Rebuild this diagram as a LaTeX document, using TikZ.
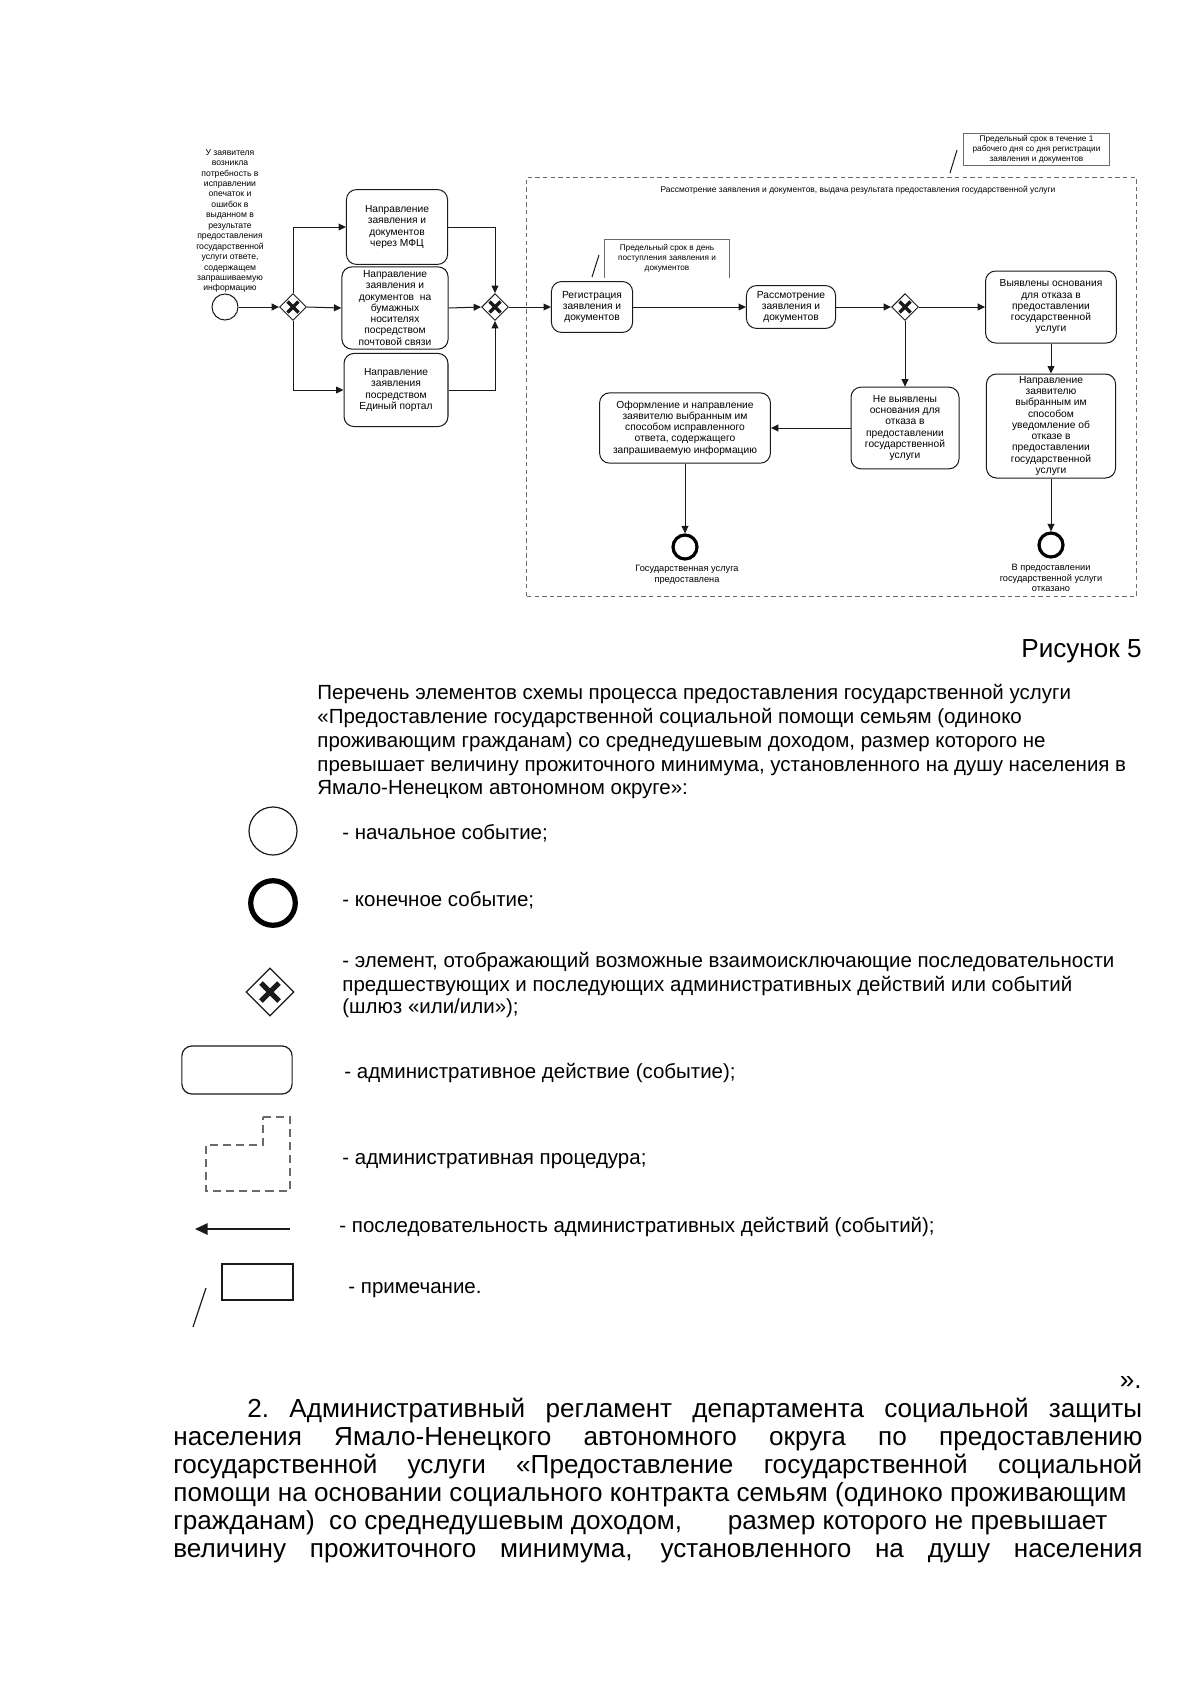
\documentclass[tikz,border=0pt]{standalone}
\usepackage{fontspec}
\setmainfont{Liberation Sans}
\usetikzlibrary{arrows.meta,shapes.geometric}
\definecolor{darkline}{HTML}{1A1A1A}
\definecolor{procline}{HTML}{6A6A6A}
\tikzset{
  task/.style={rectangle, rounded corners=5pt, align=center, draw=darkline, line width=0.5pt, inner sep=1pt, font=\fontsize{5.1}{5.6}\selectfont},
  startev/.style={circle, draw=darkline, line width=0.5pt, fill=white, minimum size=0.455cm, inner sep=0pt},
  endev/.style={circle, draw=black, line width=1.6pt, fill=white, minimum size=0.42cm, inner sep=0pt},
  gate/.style={diamond, draw=darkline, line width=0.5pt, fill=white, minimum size=0.47cm, inner sep=0pt, aspect=1,
    path picture={\draw[line width=1.7pt] ([shift={(-5.5,-5.5)}]path picture bounding box.center) -- ([shift={(5.5,5.5)}]path picture bounding box.center)
      ([shift={(-5.5,5.5)}]path picture bounding box.center) -- ([shift={(5.5,-5.5)}]path picture bounding box.center);}},
  biggate/.style={gate, minimum size=0.84cm, line width=0.6pt,
    path picture={\draw[line width=2.6pt] ([shift={(-9,-9)}]path picture bounding box.center) -- ([shift={(9,9)}]path picture bounding box.center)
      ([shift={(-9,9)}]path picture bounding box.center) -- ([shift={(9,-9)}]path picture bounding box.center);}},
  note/.style={rectangle, draw=procline, line width=0.5pt, align=center, inner sep=1pt, font=\fontsize{4.1}{5}\selectfont},
  procbox/.style={rectangle, draw=procline, line width=0.5pt, dash pattern=on 2.2pt off 1.6pt},
  tiny/.style={align=center, inner sep=0pt, font=\fontsize{4.3}{5.2}\selectfont},
  evlabel/.style={align=center, inner sep=0pt, font=\fontsize{4.6}{5.4}\selectfont},
  flow/.style={-{Triangle[length=1.3mm, width=1.2mm]}, line width=0.5pt, draw=darkline},
  lead/.style={draw=darkline, line width=0.5pt},
  legtext/.style={anchor=base west, inner sep=0pt, font=\fontsize{10.2}{12}\selectfont},
  bodytext/.style={anchor=base west, inner sep=0pt, font=\fontsize{13}{14}\selectfont}
}
\begin{document}
\begin{tikzpicture}[x=0.0175cm, y=-0.0175cm]
\useasboundingbox (0,0) rectangle (1200,1697);

% input and three ways of sending
\node[tiny] (startlbl) at (230,221) {У заявителя\\возникла\\потребность в\\исправлении\\опечаток и\\ошибок в\\выданном в\\результате\\предоставления\\государственной\\услуги ответе,\\содержащем\\запрашиваемую\\информацию};
\node[startev] (start) at (225,307) {};
\node[gate] (gw1) at (293,307) {};
\node[task, minimum width=1.77cm, minimum height=1.31cm] (mfc) at (397,227) {Направление\\заявления и\\документов\\через МФЦ};
\node[task, minimum width=1.86cm, minimum height=1.44cm] (mail) at (395,308) {Направление\\заявления и\\документов\ \ на\\бумажных\\носителях\\посредством\\почтовой связи};
\node[task, minimum width=1.82cm, minimum height=1.28cm] (portal) at (396,390) {Направление\\заявления\\посредством\\Единый портал};
\node[gate] (gw2) at (495,307) {};

% procedure
\node[procbox, minimum width=10.66cm, minimum height=7.35cm] (proc) at (831.5,387) {};
\node[font=\fontsize{4.2}{5}\selectfont, inner sep=0pt] (proctitle) at (858,190) {Рассмотрение заявления и документов, выдача результата предоставления государственной услуги};
\node[note, minimum width=2.57cm, minimum height=0.54cm] (note1) at (1036.5,149.5) {Предельный срок в течение 1\\рабочего дня со дня регистрации\\заявления и документов};
\node[note, draw=none, minimum width=2.17cm, minimum height=0.65cm] (note2) at (667,258.5) {Предельный срок в день\\поступления заявления и\\документов};
\draw[procline, line width=0.5pt] (note2.south west) -- (note2.north west) -- (note2.north east) -- (note2.south east);
\coordinate (lead1a) at (950,173);
\coordinate (lead1b) at (957,150);
\coordinate (lead2a) at (592,277);
\coordinate (lead2b) at (599,255);
\draw[lead] (lead1a) -- (lead1b);
\draw[lead] (lead2a) -- (lead2b);

\node[task, minimum width=1.42cm, minimum height=0.89cm] (reg) at (592,307) {Регистрация\\заявления и\\документов};
\node[task, minimum width=1.56cm, minimum height=0.75cm] (review) at (791,307) {Рассмотрение\\заявления и\\документов};
\node[gate] (gw3) at (905,307) {};
\node[task, minimum width=2.29cm, minimum height=1.26cm] (refuse) at (1051,307) {Выявлены основания\\для отказа в\\предоставлении\\государственной\\услуги};
\node[task, minimum width=1.89cm, minimum height=1.43cm] (notfound) at (905,428) {Не выявлены\\основания для\\отказа в\\предоставлении\\государственной\\услуги};
\node[task, minimum width=2.99cm, minimum height=1.23cm] (issue) at (685,428) {Оформление и направление\\заявителю выбранным им\\способом исправленного\\ответа, содержащего\\запрашиваемую информацию};
\node[task, minimum width=2.26cm, minimum height=1.82cm] (notify) at (1051,426) {Направление\\заявителю\\выбранным им\\способом\\уведомление об\\отказе в\\предоставлении\\государственной\\услуги};
\node[endev] (end1) at (685,547) {};
\node[endev] (end2) at (1051,545) {};
\node[evlabel] (end1lbl) at (687,575) {Государственная услуга\\предоставлена};
\node[evlabel] (end2lbl) at (1051,578) {В предоставлении\\государственной услуги\\отказано};

% connectors
\draw[flow] (start) -- (gw1);
\draw[flow] (gw1.north) |- (mfc.west);
\draw[flow] (gw1.east) -- (mail.west);
\draw[flow] (gw1.south) |- (portal.west);
\draw[flow] (mfc.east) -| (gw2.north);
\draw[flow] (mail.east) -- (gw2.west);
\draw[flow] (portal.east) -| (gw2.south);
\draw[flow] (gw2.east) -- (reg.west);
\draw[flow] (reg.east) -- (review.west);
\draw[flow] (review.east) -- (gw3.west);
\draw[flow] (gw3.east) -- (refuse.west);
\draw[flow] (gw3.south) -- (notfound.north);
\draw[flow] (notfound.west) -- (issue.east);
\draw[flow] (refuse.south) -- (notify.north);
\draw[flow] (issue.south) -- (end1.north);
\draw[flow] (notify.south) -- (end2.north);

% legend
\node[anchor=base east, inner sep=0pt, font=\fontsize{13}{15}\selectfont] (figno) at (1142,657) {Рисунок 5};
\foreach \y/\txt in {699/{Перечень элементов схемы процесса предоставления государственной услуги},
  723/{«Предоставление государственной социальной помощи семьям (одиноко},
  747/{проживающим гражданам) со среднедушевым доходом, размер которого не},
  771/{превышает величину прожиточного минимума, установленного на душу населения в},
  794/{Ямало-Ненецком автономном округе»:}} {
  \node[legtext] (intro\y) at (317,\y) {\txt};
}
\node[startev, minimum size=0.84cm, line width=0.6pt] (legstart) at (273,831) {};
\node[legtext] (legstarttxt) at (342,839) {- начальное событие;};
\node[endev, minimum size=0.78cm, line width=2.6pt] (legend) at (273,903) {};
\node[legtext] (legendtxt) at (342,906) {- конечное событие;};
\node[biggate] (leggate) at (270,992) {};
\node[legtext] (leggate1) at (342,967) {- элемент, отображающий возможные взаимоисключающие последовательности};
\node[legtext] (leggate2) at (342,991) {предшествующих и последующих административных действий или событий};
\node[legtext] (leggate3) at (342,1013) {(шлюз «или/или»);};
\node[task, minimum width=1.93cm, minimum height=0.84cm, line width=0.6pt] (legtask) at (237,1070) {};
\node[legtext] (legtasktxt) at (344,1078) {- административное действие (событие);};
\draw[procline, line width=0.6pt, dash pattern=on 4pt off 2.5pt] (263,1117) -- (290,1117) -- (290,1191) -- (206,1191) -- (206,1145) -- (263,1145) -- cycle;
\node[legtext] (legproctxt) at (342,1164) {- административная процедура;};
\coordinate (legarrowa) at (290,1229);
\coordinate (legarrowb) at (195,1229);
\draw[-{Triangle[length=2.2mm, width=2mm]}, line width=0.7pt, darkline] (legarrowa) -- (legarrowb);
\node[legtext] (legarrowtxt) at (339,1232) {- последовательность административных действий (событий);};
\node[rectangle, draw=darkline, line width=0.6pt, minimum width=1.24cm, minimum height=0.63cm] (legnote) at (257.5,1282) {};
\coordinate (legleada) at (193,1327);
\coordinate (legleadb) at (206,1288);
\draw[lead, line width=0.6pt] (legleada) -- (legleadb);
\node[legtext] (legnotetxt) at (348,1293) {- примечание.};

% closing text
\node[bodytext, anchor=base east] (closing) at (1142,1388) {».};
\node[bodytext] (par1) at (247,1417) {\makebox[15.66cm][s]{2.\ Административный регламент департамента социальной защиты}};
\node[bodytext] (par2) at (173,1445) {\makebox[16.96cm][s]{населения Ямало-Ненецкого автономного округа по предоставлению}};
\node[bodytext] (par3) at (173,1473) {\makebox[16.96cm][s]{государственной услуги «Предоставление государственной социальной}};
\node[bodytext] (par4) at (173,1501) {помощи на основании социального контракта семьям (одиноко проживающим};
\node[bodytext] (par5) at (173,1529) {гражданам)\ \ со среднедушевым доходом,\hspace{0.8cm}размер которого не превышает};
\node[bodytext] (par6) at (173,1557) {\makebox[16.96cm][s]{величину прожиточного минимума, установленного на душу населения}};

\end{tikzpicture}
\end{document}
